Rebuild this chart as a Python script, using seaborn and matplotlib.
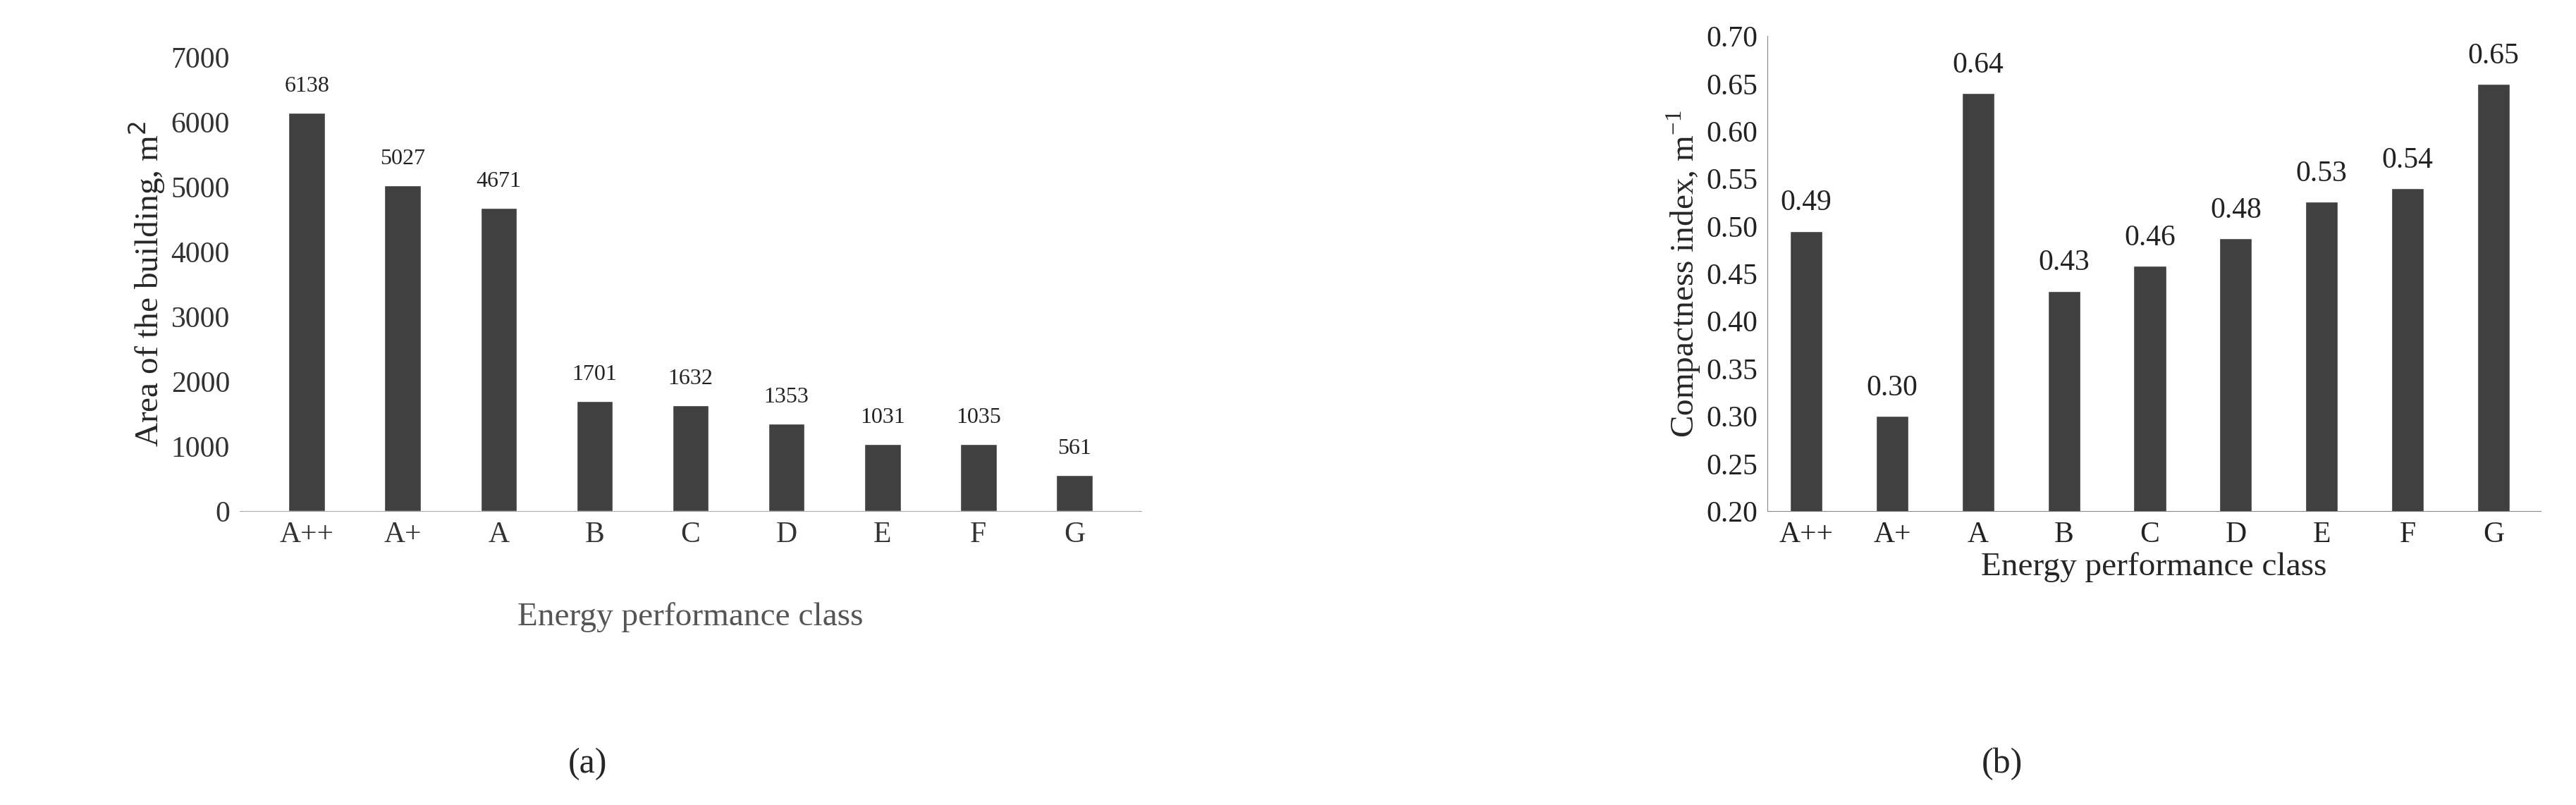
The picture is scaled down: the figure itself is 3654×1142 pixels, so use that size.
import numpy as np
import pandas as pd
import matplotlib.pyplot as plt
import seaborn as sns

sns.set_style("white")
plt.rcParams['font.family'] = ['Liberation Serif', 'DejaVu Serif']

classes = ['A++', 'A+', 'A', 'B', 'C', 'D', 'E', 'F', 'G']
area = [6138, 5027, 4671, 1701, 1632, 1353, 1031, 1035, 561]
compactness = [0.495, 0.30, 0.64, 0.432, 0.458, 0.487, 0.526, 0.54, 0.65]
compact_labels = ['0.49', '0.30', '0.64', '0.43', '0.46', '0.48', '0.53', '0.54', '0.65']

bar_color = '#404040'
fig = plt.figure(figsize=(36.55, 11.42), dpi=100)

# (a) area
ax1 = fig.add_axes([0.093, 0.365, 0.35, 0.564])
df1 = pd.DataFrame({'cls': classes, 'area': area})
sns.barplot(data=df1, x='cls', y='area', color=bar_color, width=0.38, ax=ax1, saturation=1)
ax1.set_ylim(0, 7000)
ax1.set_yticks(range(0, 7001, 1000))
for i, v in enumerate(area):
    ax1.text(i, v + 250, str(v), ha='center', va='bottom', fontsize=23, color='#222222')
ax1.set_ylabel('Area of the building, m$^2$', fontsize=34)
ax1.set_xlabel('')
ax1.text(0.5, -0.2, 'Energy performance class', transform=ax1.transAxes,
         ha='center', va='top', fontsize=34, color='#555555')
sns.despine(ax=ax1, left=True)
ax1.spines['bottom'].set_color('#aaaaaa')
ax1.tick_params(labelsize=30, colors='#333333', length=0, pad=10)
ax1.set_xlim(-0.7, 8.7)

# (b) compactness
ax2 = fig.add_axes([0.686, 0.365, 0.30, 0.59])
df2 = pd.DataFrame({'cls': classes, 'ci': compactness})
sns.barplot(data=df2, x='cls', y='ci', color=bar_color, width=0.38, ax=ax2, saturation=1)
ax2.set_ylim(0.20, 0.70)
ax2.set_yticks(np.arange(0.20, 0.701, 0.05))
ax2.set_yticklabels([f'{t:.2f}' for t in np.arange(0.20, 0.701, 0.05)])
for i, (v, s) in enumerate(zip(compactness, compact_labels)):
    ax2.text(i, v + 0.015, s, ha='center', va='bottom', fontsize=30, color='#222222')
ax2.set_ylabel('Compactness index, m$^{\\mathregular{-1}}$', fontsize=34)
ax2.set_xlabel('Energy performance class', fontsize=34, labelpad=4)
sns.despine(ax=ax2)
ax2.spines['bottom'].set_color('#888888')
ax2.spines['left'].set_color('#888888')
ax2.tick_params(labelsize=30, colors='#222222', length=0, pad=10)
ax2.set_xlim(-0.45, 8.55)

fig.text(0.228, 0.04, '(a)', ha='center', fontsize=36)
fig.text(0.777, 0.04, '(b)', ha='center', fontsize=36)

fig.savefig('out.png', dpi=100)
